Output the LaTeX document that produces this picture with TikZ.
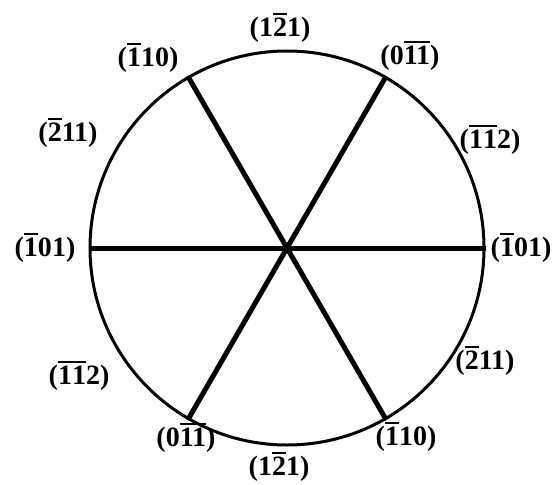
\documentclass[tikz,border=0pt]{standalone}
\usepackage{fontspec}
\setmainfont{Liberation Serif}
\newcommand\ob[1]{\vbox{\hrule height 1.8pt\kern 3pt\hbox{#1}}}
\tikzset{
  lab/.style={font=\fontsize{28}{30}\selectfont\bfseries, inner sep=0pt},
  rim/.style={draw, line width=3pt, circle, minimum size=394pt, inner sep=0pt},
  spoke/.style={line width=5pt}
}
\begin{document}
\begin{tikzpicture}[x=1pt,y=-1pt]
\useasboundingbox (0,0) rectangle (553,484);
\node[rim] (c) at (287,248) {};
\draw[spoke] (c.60) -- (c.240);
\draw[spoke] (c.120) -- (c.300);
\draw[spoke] (c.180) -- (c.0);
\node[lab] (t)  at (280,28)  {(1\ob{2}1)};
\node[lab] (ur) at (410,56)  {(0\ob{11})};
\node[lab] (r1) at (490,140) {(\ob{1}\ob{1}2)};
\node[lab] (r)  at (521,248) {(\ob{1}01)};
\node[lab] (r2) at (485,361) {(\ob{2}11)};
\node[lab] (lr) at (406,437) {(\ob{1}10)};
\node[lab] (b)  at (279,467) {(1\ob{2}1)};
\node[lab] (ll) at (186,438) {(0\ob{11})};
\node[lab] (l2) at (79,376)  {(\ob{1}\ob{1}2)};
\node[lab] (l)  at (45,248)  {(\ob{1}01)};
\node[lab] (l1) at (68,133)  {(\ob{2}11)};
\node[lab] (ul) at (148,58)  {(\ob{1}10)};
\end{tikzpicture}
\end{document}
